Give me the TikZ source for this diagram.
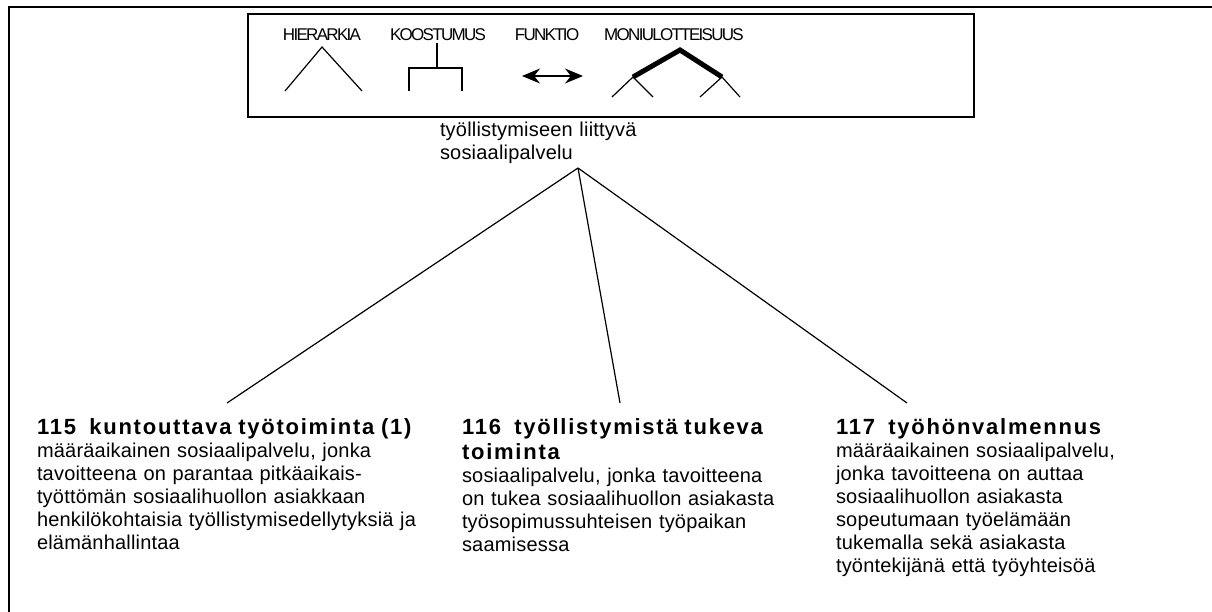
\documentclass[tikz,border=0pt]{standalone}
\usepackage{fontspec}
\setmainfont[LetterSpace=1]{Liberation Sans}
\newfontfamily\headfont[LetterSpace=8]{Liberation Sans}
\newfontfamily\legendfont[LetterSpace=-10]{Liberation Sans}
\usetikzlibrary{arrows.meta}

\begin{document}
\begin{tikzpicture}[x=1pt,y=-1pt,
    every node/.style={inner sep=0pt, outer sep=0pt},
    legendlabel/.style={font=\legendfont\fontsize{17}{17}\selectfont},
    concept/.style={anchor=north west, align=left, text width=400pt, font=\fontsize{20}{23}\selectfont},
    frameline/.style={line width=1.5pt},
    link/.style={line width=1.2pt}]
    \useasboundingbox (0,0) rectangle (1212,612);

    % outer frame, cut off at right and bottom
    \draw[frameline] (9,612) -- (9,7) -- (1212,7);

    % legend
    \node[draw, frameline, minimum width=726pt, minimum height=103pt, anchor=north west] (legend) at (248,14) {};
    \node[legendlabel] (hier) at (322,35) {HIERARKIA};
    \node[legendlabel] (koos) at (438,35) {KOOSTUMUS};
    \node[legendlabel] (funk) at (547,35) {FUNKTIO};
    \node[legendlabel] (moni) at (674,35) {MONIULOTTEISUUS};

    \draw[link] (285,91) -- (322,47) -- (362,91);
    \draw[link] (437,43) -- (437,68) (409,91) -- (409,68) -- (462,68) -- (462,91);
    \draw[link, {Stealth[length=18pt,width=15pt]}-{Stealth[length=18pt,width=15pt]}] (522,76) -- (583,76);
    \draw[line width=5pt] (633,77) -- (680,50) -- (722,77);
    \draw[link] (612,97) -- (633,77) -- (653,97) (700,97) -- (722,77) -- (740,97);

    % concepts
    \node[concept] (root) at (440,122) {työllistymiseen liittyvä\\ sosiaalipalvelu};

    \node[concept] (kt115) at (37,419) {{\headfont\bfseries\fontsize{22}{25}\selectfont 115\ \ kuntouttava työtoiminta (1)}\\
        määräaikainen sosiaalipalvelu, jonka\\
        tavoitteena on parantaa pitkäaikais-\\
        työttömän sosiaalihuollon asiakkaan\\
        henkilökohtaisia työllistymisedellytyksiä ja\\
        elämänhallintaa};
    \node[concept] (tt116) at (462,419) {{\headfont\bfseries\fontsize{22}{25}\selectfont 116\ \ työllistymistä tukeva}\\[2pt]
        {\headfont\bfseries\fontsize{22}{25}\selectfont toiminta}\\
        sosiaalipalvelu, jonka tavoitteena\\
        on tukea sosiaalihuollon asiakasta\\
        työsopimussuhteisen työpaikan\\
        saamisessa};
    \node[concept] (tv117) at (836,419) {{\headfont\bfseries\fontsize{22}{25}\selectfont 117\ \ työhönvalmennus}\\
        määräaikainen sosiaalipalvelu,\\
        jonka tavoitteena on auttaa\\
        sosiaalihuollon asiakasta\\
        sopeutumaan työelämään\\
        tukemalla sekä asiakasta\\
        työntekijänä että työyhteisöä};

    % connectors
    \coordinate (hub) at (578,168);
    \coordinate (e115) at (227,403);
    \coordinate (e116) at (620,403);
    \coordinate (e117) at (907,403);
    \draw[link] (hub) -- (e115);
    \draw[link] (hub) -- (e116);
    \draw[link] (hub) -- (e117);
\end{tikzpicture}
\end{document}
